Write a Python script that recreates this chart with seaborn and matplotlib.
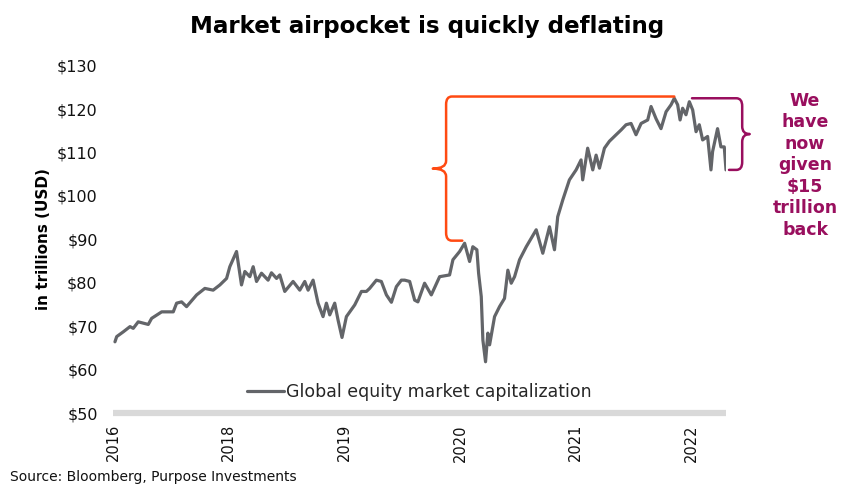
import numpy as np
import pandas as pd
import matplotlib
matplotlib.use("Agg")
import matplotlib.pyplot as plt
from matplotlib.path import Path
from matplotlib.patches import PathPatch
import seaborn as sns

# ---- data (decimal year, trillions USD) ----
years = [2017.017, 2017.032, 2017.089, 2017.147, 2017.175, 2017.218, 2017.305, 2017.334,
         2017.421, 2017.521, 2017.550, 2017.593, 2017.636, 2017.723, 2017.794, 2017.866,
         2017.924, 2017.982, 2018.010, 2018.068, 2018.111, 2018.140, 2018.183, 2018.212,
         2018.241, 2018.284, 2018.341, 2018.370, 2018.414, 2018.442, 2018.485, 2018.557,
         2018.615, 2018.658, 2018.687, 2018.730, 2018.773, 2018.816, 2018.845, 2018.874,
         2018.917, 2018.946, 2018.980, 2019.018, 2019.090, 2019.148, 2019.191, 2019.219,
         2019.277, 2019.320, 2019.364, 2019.407, 2019.450, 2019.493, 2019.522, 2019.565,
         2019.608, 2019.636, 2019.694, 2019.752, 2019.824, 2019.910, 2019.939, 2019.997,
         2020.040, 2020.083, 2020.111, 2020.146, 2020.161, 2020.184, 2020.198, 2020.221,
         2020.241, 2020.256, 2020.299, 2020.342, 2020.385, 2020.414, 2020.443, 2020.472,
         2020.515, 2020.573, 2020.659, 2020.716, 2020.774, 2020.817, 2020.845, 2020.889,
         2020.946, 2021.004, 2021.047, 2021.061, 2021.104, 2021.148, 2021.177, 2021.206,
         2021.249, 2021.292, 2021.350, 2021.393, 2021.436, 2021.479, 2021.522, 2021.566,
         2021.623, 2021.652, 2021.695, 2021.738, 2021.782, 2021.825, 2021.853, 2021.882,
         2021.903, 2021.925, 2021.954, 2021.983, 2022.012, 2022.041, 2022.069, 2022.098,
         2022.141, 2022.170, 2022.184, 2022.227, 2022.256, 2022.285, 2022.300]
market_cap = [66.4, 67.6, 68.7, 69.9, 69.5, 71.0, 70.4, 71.8,
              73.3, 73.3, 75.3, 75.6, 74.5, 77.2, 78.7, 78.3,
              79.5, 81.0, 83.7, 87.2, 79.5, 82.6, 81.4, 83.7,
              80.3, 82.2, 80.6, 82.3, 81.0, 81.8, 78.0, 80.3,
              78.3, 80.3, 78.3, 80.6, 75.3, 72.2, 75.3, 72.6,
              75.3, 71.4, 67.4, 72.2, 74.9, 78.0, 78.0, 78.7,
              80.6, 80.3, 77.2, 75.5, 79.1, 80.6, 80.6, 80.3,
              76.0, 75.6, 79.9, 77.2, 81.4, 81.8, 85.3, 87.2,
              89.1, 84.9, 88.3, 87.6, 82.2, 76.8, 66.8, 61.8,
              68.4, 65.7, 72.2, 74.5, 76.4, 82.9, 79.9, 81.4,
              85.3, 88.3, 92.2, 86.8, 92.9, 87.6, 95.2, 99.1,
              103.7, 106.0, 108.3, 103.7, 111.0, 106.0, 109.4, 106.4,
              111.0, 112.6, 114.1, 115.2, 116.4, 116.7, 114.1, 116.7,
              117.5, 120.6, 117.8, 115.5, 119.4, 121.0, 122.5, 121.0,
              117.5, 120.2, 118.7, 121.7, 119.8, 114.8, 116.4, 112.9,
              113.7, 106.0, 110.2, 115.5, 111.3, 111.3, 106.0]
series_name = "Global equity market capitalization"
xtick_pos = [2017, 2018, 2019, 2020, 2021, 2022]
xtick_labels = ["2016", "2018", "2019", "2020", "2021", "2022"]
ytick_vals = [50, 60, 70, 80, 90, 100, 110, 120, 130]

df = pd.DataFrame({"year": years, "cap": market_cap})

sns.set_theme(style="white")
plt.rcParams["font.family"] = ["DejaVu Sans"]

fig = plt.figure(figsize=(8.57, 4.92), dpi=100)
ax = fig.add_axes([113 / 857, 1 - 413 / 492, 613 / 857, 347.3 / 492])

LINE = "#636569"
ORANGE = "#FF4A12"
PURPLE = "#990F5E"

sns.lineplot(data=df, x="year", y="cap", ax=ax, color=LINE, lw=2.3,
             label=series_name, zorder=3)

ax.set_xlim(2017.0, 2022.30)
ax.set_ylim(50, 130)
ax.set_xticks(xtick_pos)
ax.set_xticklabels(xtick_labels, rotation=90, fontsize=10.5, color="#111111")
ax.set_yticks(ytick_vals)
ax.set_yticklabels([f"${v}" for v in ytick_vals], fontsize=11.5, color="#111111")
ax.tick_params(axis="y", length=0, pad=11)
ax.tick_params(axis="x", length=0, pad=8)
for s in ["top", "right", "left"]:
    ax.spines[s].set_visible(False)
ax.spines["bottom"].set_color("#D9D9D9")
ax.spines["bottom"].set_linewidth(4.5)
ax.spines["bottom"].set_capstyle("butt")
ax.set_xlabel("")
ax.set_ylabel("in trillions (USD)", fontsize=11, fontweight="bold", labelpad=4,
              color="#000000")

leg = ax.legend(loc="center", bbox_to_anchor=(0.5, 0.06), frameon=False,
                fontsize=12.5, handlelength=2.1, handletextpad=0.15)


def brace(ax, xv, xtip, ytop, ybot, ymid, xtop_end, xbot_end, color, rx, ry):
    s = np.sign(xtip - xv)
    verts = [(xtop_end, ytop), (xv - s * rx, ytop),
             (xv, ytop), (xv, ytop - ry),
             (xv, ymid + ry),
             (xv, ymid), (xtip, ymid),
             (xv, ymid), (xv, ymid - ry),
             (xv, ybot + ry),
             (xv, ybot), (xv - s * rx, ybot),
             (xbot_end, ybot)]
    codes = [Path.MOVETO, Path.LINETO,
             Path.CURVE3, Path.CURVE3,
             Path.LINETO,
             Path.CURVE3, Path.CURVE3,
             Path.CURVE3, Path.CURVE3,
             Path.LINETO,
             Path.CURVE3, Path.CURVE3,
             Path.LINETO]
    p = PathPatch(Path(verts, codes), fill=False, edgecolor=color, lw=1.8,
                  clip_on=False, zorder=4, capstyle="round", joinstyle="round")
    ax.add_patch(p)


arr_y = np.array(market_cap)
arr_x = np.array(years)
i_peak = int(np.argmax(arr_y))
pre = arr_x < 2020.15
i_pre = int(np.argmax(np.where(pre, arr_y, -np.inf)))
peak_val = arr_y[i_peak]
pre_val = arr_y[i_pre]
last_val = arr_y[-1]

brace(ax, 2019.88, 2019.765, peak_val + 0.4, pre_val + 0.6,
      (peak_val + pre_val) / 2 + 0.5, arr_x[i_peak], arr_x[i_pre] - 0.02,
      ORANGE, 0.05, 1.8)
brace(ax, 2022.44, 2022.505, peak_val, last_val, (peak_val + last_val) / 2,
      2022.006, 2022.326, PURPLE, 0.05, 1.8)

fig.text(805 / 857, 1 - 165 / 492, "We\nhave\nnow\ngiven\n$15\ntrillion\nback",
         ha="center", va="center", fontsize=12.5, fontweight="bold",
         color=PURPLE, linespacing=1.25)

fig.suptitle("Market airpocket is quickly deflating", x=427 / 857, y=1 - 26 / 492,
             va="center", fontsize=16.6, fontweight="bold", color="#000000")
fig.text(10 / 857, 1 - 477 / 492, "Source: Bloomberg, Purpose Investments",
         fontsize=10, va="center", ha="left", color="#111111")

fig.savefig("out.png", dpi=100)
